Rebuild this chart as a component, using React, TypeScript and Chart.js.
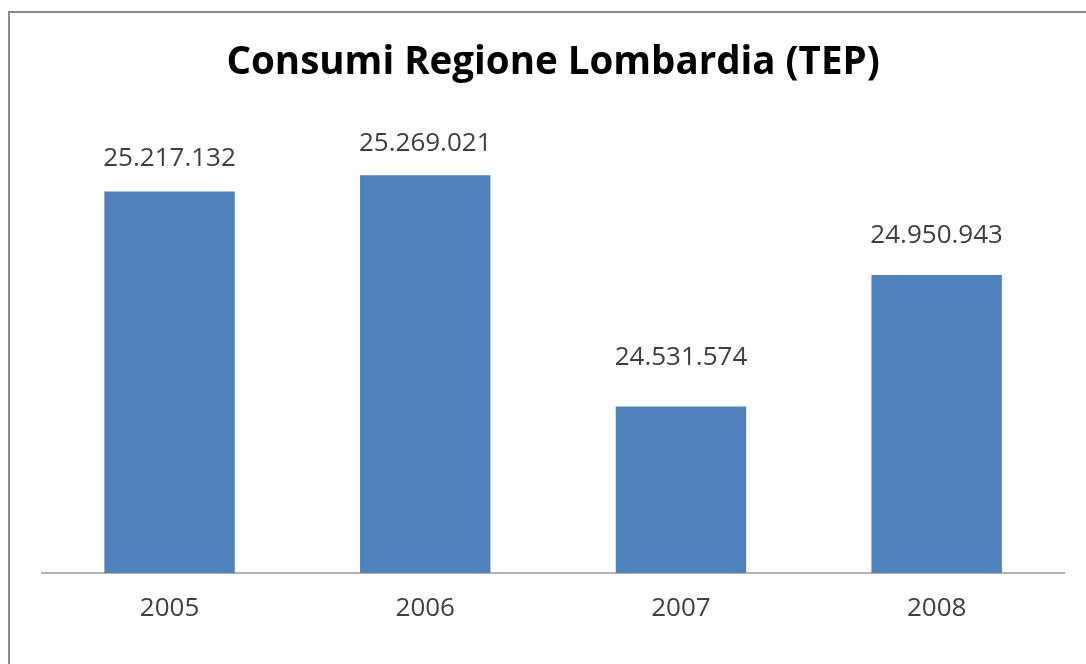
import React, { useEffect, useRef } from "react";
import { Chart, registerables } from "chart.js";

Chart.register(...registerables);

const TITLE = "Consumi Regione Lombardia (TEP)";
const YEARS = ["2005", "2006", "2007", "2008"];
const CONSUMI = [25217132, 25269021, 24531574, 24950943];
const Y_MIN = 24000000;
const Y_MAX = 25400000;

const fmt = (v: number) => String(v).replace(/\B(?=(\d{3})+(?!\d))/g, ".");

const valueLabels = {
  id: "valueLabels",
  afterDatasetsDraw(chart: any) {
    const ctx = chart.ctx;
    const meta = chart.getDatasetMeta(0);
    const base = chart.chartArea.bottom;
    ctx.save();
    ctx.font = "26px 'Open Sans'";
    ctx.fillStyle = "#404040";
    ctx.textAlign = "center";
    ctx.textBaseline = "middle";
    meta.data.forEach((bar: any, i: number) => {
      const h = base - bar.y;
      const y = base - 60 - 0.93 * h;
      ctx.fillText(fmt(CONSUMI[i]), bar.x, y);
    });
    ctx.restore();
  },
};

export default function App() {
  const ref = useRef<HTMLCanvasElement | null>(null);
  useEffect(() => {
    if (!ref.current) return;
    const chart = new Chart(ref.current, {
      type: "bar",
      data: {
        labels: YEARS,
        datasets: [
          {
            data: CONSUMI,
            backgroundColor: "#4F81BD",
            borderWidth: 0,
            barPercentage: 1,
            categoryPercentage: 0.51,
          },
        ],
      },
      options: {
        animation: false,
        responsive: false,
        maintainAspectRatio: false,
        layout: { padding: { left: 41.7, right: 21.5, top: 0, bottom: 0 } },
        plugins: {
          legend: { display: false },
          tooltip: { enabled: false },
          title: {
            display: true,
            text: TITLE,
            color: "#000000",
            font: { family: "'Open Sans'", size: 38.5, weight: "bold" },
            padding: { top: 40, bottom: 48 },
          },
        },
        scales: {
          x: {
            grid: { display: false, drawTicks: false },
            border: { display: true, color: "#b3b3b3", width: 2 },
            ticks: {
              color: "#404040",
              font: { family: "'Open Sans'", size: 26 },
              padding: 20,
            },
            afterFit(scale: any) {
              scale.height = 91;
            },
          },
          y: {
            display: false,
            min: Y_MIN,
            max: Y_MAX,
          },
        },
      },
      plugins: [valueLabels],
    });
    return () => chart.destroy();
  }, []);

  return (
    <div
      style={{
        position: "fixed",
        left: 0,
        top: 0,
        width: 1086,
        height: 664,
        overflow: "hidden",
        background: "#ffffff",
      }}
    >
      <canvas ref={ref} width={1086} height={664} style={{ display: "block" }} />
      <div
        style={{
          position: "absolute",
          left: 8,
          top: 11,
          width: 1200,
          height: 800,
          borderLeft: "2px solid #8a8a8a",
          borderTop: "2px solid #8a8a8a",
          pointerEvents: "none",
        }}
      />
    </div>
  );
}
